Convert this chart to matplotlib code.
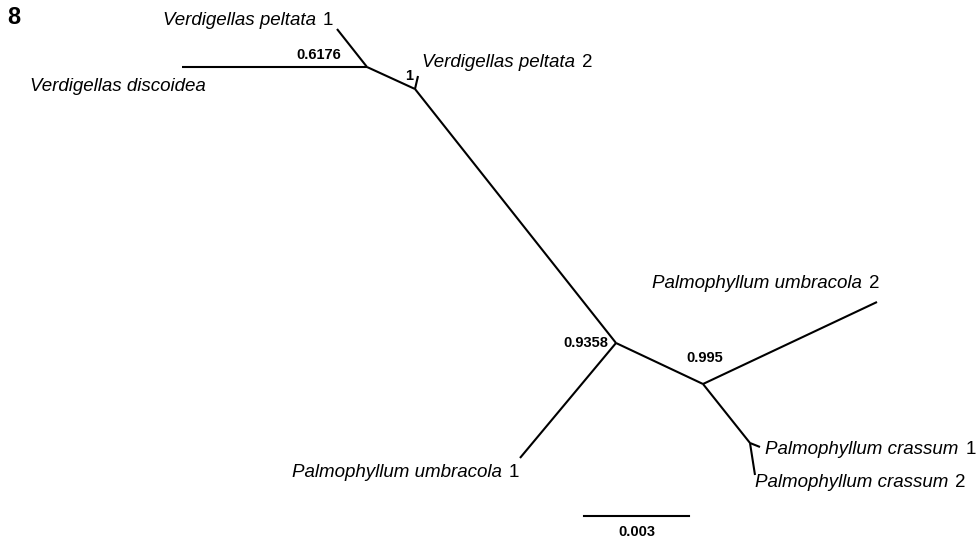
import matplotlib

matplotlib.use("Agg")
import matplotlib.pyplot as plt
from matplotlib import font_manager

# node layout (tree drawn in screen units, scale bar 105 units = 0.003 subst./site)
node_names = ["A", "B", "C", "D", "E",
              "discoidea", "peltata1", "peltata2", "umbr1", "umbr2", "crass1", "crass2"]
node_x = [367, 415, 616, 703, 750, 182, 337, 418, 520, 877, 760, 755]
node_y = [67, 89, 343, 384, 443, 67, 29, 76, 458, 302, 447, 475]
edges = [("A", "discoidea"), ("A", "peltata1"), ("A", "B"), ("B", "peltata2"),
         ("B", "C"), ("C", "umbr1"), ("C", "D"), ("D", "umbr2"), ("D", "E"),
         ("E", "crass1"), ("E", "crass2")]

# taxon labels: italic name, plain number, left x, baseline y
taxa_names = ["Verdigellas peltata", "Verdigellas discoidea", "Verdigellas peltata",
              "Palmophyllum umbracola", "Palmophyllum umbracola",
              "Palmophyllum crassum", "Palmophyllum crassum"]
taxa_nums = ["1", "", "2", "2", "1", "1", "2"]
taxa_x = [163, 30, 422, 652, 292, 765, 755]
taxa_y = [25, 91, 67, 288, 477, 454, 487]

# support values
support = ["0.6176", "1", "0.9358", "0.995"]
support_x = [319, 409, 586, 705]
support_y = [55, 76, 343, 358]

scale_len = 0.003
scale_px = 105

avail = {f.name for f in font_manager.fontManager.ttflist}
sans = "Liberation Sans" if "Liberation Sans" in avail else "DejaVu Sans"

fig = plt.figure(figsize=(9.79, 5.40), dpi=100)
ax = fig.add_axes([0, 0, 1, 1])
ax.set_xlim(0, 979)
ax.set_ylim(540, 0)
ax.axis("off")

pos = {n: (x, y) for n, x, y in zip(node_names, node_x, node_y)}
for a, b in edges:
    ax.plot([pos[a][0], pos[b][0]], [pos[a][1], pos[b][1]],
            color="black", lw=1.5, solid_capstyle="butt")

renderer = fig.canvas.get_renderer()
for name, num, x, y in zip(taxa_names, taxa_nums, taxa_x, taxa_y):
    t = ax.text(x, y, name, family=sans, style="italic", fontsize=13.5,
                ha="left", va="baseline")
    if num:
        w = t.get_window_extent(renderer).width
        ax.text(x + w + 7, y, num, family=sans, fontsize=13.5,
                ha="left", va="baseline")

for s, x, y in zip(support, support_x, support_y):
    ax.text(x, y, s, family=sans, weight="bold", fontsize=10.5,
            ha="center", va="center")

ax.plot([584, 584 + scale_px], [516, 516], color="black", lw=1.5)
ax.text(584 + scale_px / 2, 532, f"{scale_len:.3f}", family=sans,
        weight="bold", fontsize=10.5, ha="center", va="center")

ax.text(14, 17, "8", family=sans, weight="bold", fontsize=17,
        ha="center", va="center")

fig.savefig("out.png", dpi=100)
